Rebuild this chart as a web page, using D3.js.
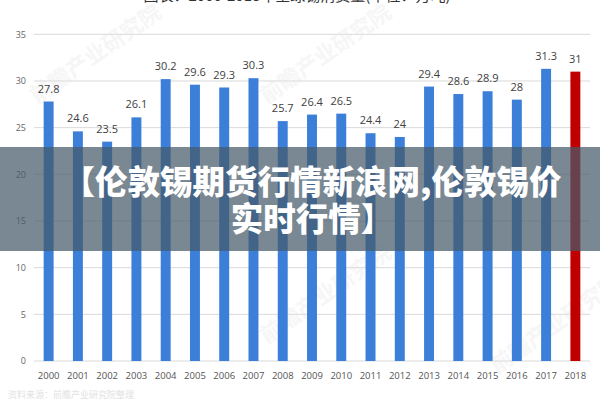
<!DOCTYPE html>
<html>
<head>
<meta charset="utf-8">
<script src="https://cdn.jsdelivr.net/npm/d3@7"></script>
<style>
  html, body { margin: 0; padding: 0; background: #fff; }
  svg { display: block; font-family: "Noto Sans CJK SC", "Microsoft YaHei", "Open Sans", sans-serif; }
</style>
</head>
<body>
<svg id="chart" width="600" height="400"></svg>
<script>
const years = ["2000","2001","2002","2003","2004","2005","2006","2007","2008","2009","2010","2011","2012","2013","2014","2015","2016","2017","2018"];
const values = [27.8, 24.6, 23.5, 26.1, 30.2, 29.6, 29.3, 30.3, 25.7, 26.4, 26.5, 24.4, 24, 29.4, 28.6, 28.9, 28, 31.3, 31];
const yTicks = [0, 5, 10, 15, 20, 25, 30, 35];
const titleText = "图表：2000-2018年全球锡消费量(单位：万吨)";
const overlayLines = ["【伦敦锡期货行情新浪网,伦敦锡价", "实时行情】"];
const sourceText = "资料来源：前瞻产业研究院整理";

const svg = d3.select("#chart");
const m = { left: 34, right: 10, top: 34.3, bottom: 39 };
const W = 600, H = 400;

const x = d3.scaleBand().domain(years).range([m.left, W - m.right]).paddingInner(0.66).paddingOuter(0.33);
const y = d3.scaleLinear().domain([0, 35]).range([H - m.bottom, m.top]);

// title (cut off at top)
svg.append("text").attr("x", 297).attr("y", 1).attr("text-anchor", "middle")
  .attr("font-size", 15).attr("fill", "#333").text(titleText);

// gridlines
svg.append("g").selectAll("line").data(yTicks).join("line")
  .attr("x1", m.left).attr("x2", W - m.right)
  .attr("y1", d => y(d)).attr("y2", d => y(d))
  .attr("stroke", "#d9d9d9").attr("stroke-width", 1);

// y axis labels
const yAxis = d3.axisLeft(y).tickValues(yTicks).tickSize(0).tickPadding(0);
const gy = svg.append("g").attr("transform", `translate(${m.left - 8},0)`).call(yAxis);
gy.select(".domain").remove();
gy.selectAll("text").attr("font-size", 9).attr("fill", "#666")
  .attr("font-family", "'Open Sans', sans-serif").attr("text-anchor", "end");

// watermarks
const wm = svg.append("g").attr("fill", "#e6e6e6").attr("font-size", 22).attr("font-weight", "bold");
[[100, 60], [330, 300], [560, 330], [330, 60]].forEach(p => {
  wm.append("text").attr("transform", `translate(${p[0]},${p[1]}) rotate(-35)`)
    .attr("text-anchor", "middle").attr("opacity", 0.35).text("前瞻产业研究院");
});

// bars
svg.append("g").selectAll("rect").data(values).join("rect")
  .attr("x", (d, i) => x(years[i]))
  .attr("y", d => y(d))
  .attr("width", x.bandwidth())
  .attr("height", d => y(0) - y(d))
  .attr("fill", (d, i) => i === values.length - 1 ? "#c00000" : "#3b7fd9");

// value labels
svg.append("g").selectAll("text").data(values).join("text")
  .attr("x", (d, i) => x(years[i]) + x.bandwidth() / 2)
  .attr("y", d => y(d) - 9)
  .attr("text-anchor", "middle")
  .attr("font-size", 11)
  .attr("font-family", "'Open Sans', sans-serif")
  .attr("fill", "#404040")
  .text(d => d);

// x axis labels
const xAxis = d3.axisBottom(x).tickSize(0).tickPadding(0);
const gx = svg.append("g").attr("transform", `translate(0,${y(0) + 18})`).call(xAxis);
gx.select(".domain").remove();
gx.selectAll("text").attr("font-size", 9.5).attr("fill", "#555")
  .attr("font-family", "'Open Sans', sans-serif").attr("dy", 0);

// source
svg.append("text").attr("x", 8).attr("y", 398).attr("font-size", 9).attr("fill", "#e2e2e2").text(sourceText);

// overlay band
svg.append("rect").attr("x", 0).attr("y", 147).attr("width", W).attr("height", 104)
  .attr("fill", "rgb(70,90,105)").attr("opacity", 0.72);

svg.append("g").selectAll("text").data(overlayLines).join("text")
  .attr("x", 312).attr("y", (d, i) => 194 + i * 37)
  .attr("text-anchor", "middle")
  .attr("font-size", 32.5).attr("font-weight", 900)
  .attr("fill", "#fff")
  .text(d => d);
</script>
</body>
</html>
